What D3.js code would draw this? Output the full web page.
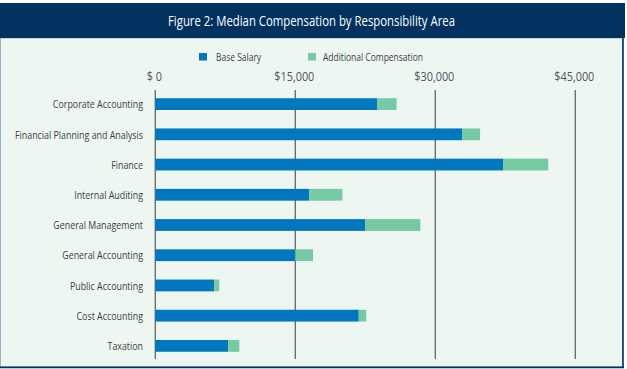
<!DOCTYPE html>
<html>
<head>
<meta charset="utf-8">
<script src="https://cdn.jsdelivr.net/npm/d3@7"></script>
<style>
  html, body { margin: 0; padding: 0; background: #ffffff; }
  svg { display: block; }
  svg text { font-family: "Open Sans", "Noto Sans", sans-serif; }
</style>
</head>
<body>
<svg id="chart" width="627" height="369"></svg>
<script>
const title = "Figure 2: Median Compensation by Responsibility Area";
const categories = [
  "Corporate Accounting",
  "Financial Planning and Analysis",
  "Finance",
  "Internal Auditing",
  "General Management",
  "General Accounting",
  "Public Accounting",
  "Cost Accounting",
  "Taxation"
];
const seriesNames = ["Base Salary", "Additional Compensation"];
const baseSalary = [23800, 32900, 37300, 16500, 22500, 15000, 6300, 21800, 7800];
const additionalComp = [2050, 1900, 4800, 3550, 5900, 1900, 550, 800, 1200];
const tickValues = [0, 15000, 30000, 45000];
const tickLabels = ["$ 0", "$15,000", "$30,000", "$45,000"];

const navy = "#00315F";
const bg = "#EEF6F2";
const colors = ["#0077BF", "#75C9A3"];

const svg = d3.select("#chart");

// condense a text group so that one reference string gets a given width
function condense(sel, refText, refWidth) {
  let k = 1;
  sel.each(function () { if (this.textContent === refText) k = refWidth / this.getComputedTextLength(); });
  sel.each(function () {
    const w = this.getComputedTextLength();
    d3.select(this).attr("textLength", w * k).attr("lengthAdjust", "spacingAndGlyphs");
  });
}

// panel background
svg.append("rect").attr("x", 0.5).attr("y", 38).attr("width", 622).attr("height", 329)
  .attr("fill", bg).attr("stroke", "#9fb3c6").attr("stroke-width", 1);
svg.append("line").attr("x1", 623).attr("x2", 623).attr("y1", 38).attr("y2", 368)
  .attr("stroke", navy).attr("stroke-width", 1.6);
svg.append("line").attr("x1", 0).attr("x2", 624).attr("y1", 367.4).attr("y2", 367.4)
  .attr("stroke", navy).attr("stroke-width", 1.6);

// title band
svg.append("rect").attr("x", 0).attr("y", 3).attr("width", 625).attr("height", 35).attr("fill", navy);
const tt = svg.append("text").attr("x", 311.5).attr("y", 25.5).attr("text-anchor", "middle")
  .attr("fill", "#ffffff").attr("font-size", 14.5).text(title);
condense(tt, title, 287);

// scales
const x = d3.scaleLinear().domain([0, 45000]).range([155.3, 575.3]);
const y = d3.scaleBand().domain(categories).range([89, 361]).paddingInner(0.61).paddingOuter(0.305);

const rows = categories.map((c, i) => ({ cat: c, base: baseSalary[i], add: additionalComp[i] }));
const stack = d3.stack().keys(["base", "add"])(rows);

// gridlines
svg.append("g").selectAll("line").data(tickValues).join("line")
  .attr("x1", d => x(d)).attr("x2", d => x(d))
  .attr("y1", 90).attr("y2", 359)
  .attr("stroke", "#6b6f70").attr("stroke-width", 1.4);

// top axis labels
const axis = d3.axisTop(x).tickValues(tickValues).tickFormat((d, i) => tickLabels[i]).tickSize(0).tickPadding(0);
const gAxis = svg.append("g").attr("transform", "translate(-1.5,81)").call(axis);
gAxis.select(".domain").remove();
gAxis.selectAll("text").attr("font-size", 13).attr("fill", "#4f555b")
  .style("font-family", "'Open Sans', 'Noto Sans', sans-serif");
condense(gAxis.selectAll("text"), "$15,000", 40);

// bars
svg.append("g").selectAll("g").data(stack).join("g")
  .attr("fill", (d, i) => colors[i])
  .selectAll("rect").data(d => d).join("rect")
  .attr("x", d => x(d[0]))
  .attr("width", d => x(d[1]) - x(d[0]))
  .attr("y", d => y(d.data.cat))
  .attr("height", y.bandwidth());

// category labels
const axisL = d3.axisLeft(y).tickSize(0).tickPadding(0);
const gL = svg.append("g").attr("transform", "translate(143,0.5)").call(axisL);
gL.select(".domain").remove();
gL.selectAll("text").attr("font-size", 11.5).attr("fill", "#3b3f45")
  .style("font-family", "'Open Sans', 'Noto Sans', sans-serif");
condense(gL.selectAll("text"), "Financial Planning and Analysis", 128);

// legend
const legendX = [199, 308];
const lg = svg.append("g").selectAll("g").data(seriesNames).join("g")
  .attr("transform", (d, i) => `translate(${legendX[i]},53)`);
lg.append("rect").attr("width", 8).attr("height", 7.5).attr("fill", (d, i) => colors[i]);
const lt = lg.append("text").attr("x", (d, i) => i === 0 ? 17 : 15).attr("y", 7.8)
  .attr("font-size", 11).attr("fill", "#3b3f45").text(d => d);
condense(lt, "Additional Compensation", 100);
</script>
</body>
</html>
